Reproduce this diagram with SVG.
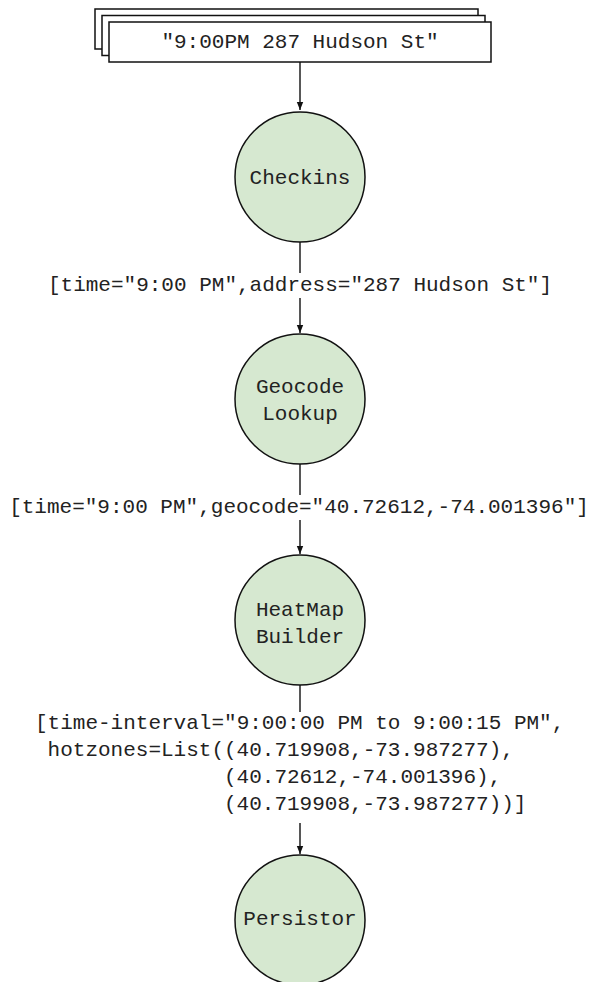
<svg xmlns="http://www.w3.org/2000/svg" width="592" height="982" viewBox="0 0 592 982">
<defs>
<style>
.t{font-family:"Liberation Mono","Courier New",monospace;font-size:21px;fill:#222}
.c{text-anchor:middle}
.node{fill:#d6e8d0;stroke:#111;stroke-width:1.5}
.box{fill:#fff;stroke:#111;stroke-width:1.5}
.edge{fill:none;stroke:#111;stroke-width:1.4}
</style>
<marker id="arr" viewBox="0 0 10 10" refX="10" refY="5" markerWidth="8" markerHeight="8" markerUnits="userSpaceOnUse" orient="auto">
<path d="M0,1 L10,5 L0,9 Z" fill="#111"/>
</marker>
</defs>
<rect width="592" height="982" fill="#fff"/>
<g id="input">
<rect class="box" x="95" y="9" width="383" height="40"/>
<rect class="box" x="102" y="15.5" width="383" height="40"/>
<rect class="box" x="109" y="22" width="382" height="40"/>
<text class="t c" x="300" y="48">"9:00PM 287 Hudson St"</text>
</g>
<g id="connectors">
<path class="edge" d="M300,62 V110" marker-end="url(#arr)"/>
<path class="edge" d="M300,242 V273 M300,298 V333" marker-end="url(#arr)"/>
<path class="edge" d="M300,464 V495 M300,520 V554" marker-end="url(#arr)"/>
<path class="edge" d="M300,685 V712 M300,823 V854" marker-end="url(#arr)"/>
</g>
<g id="label1"><text class="t c" x="300" y="291">[time="9:00 PM",address="287 Hudson St"]</text></g>
<g id="label2"><text class="t c" x="299" y="513">[time="9:00 PM",geocode="40.72612,-74.001396"]</text></g>
<g id="label3">
<text class="t" x="35" y="729">[time-interval="9:00:00 PM to 9:00:15 PM",</text>
<text class="t" x="47.6" y="756">hotzones=List((40.719908,-73.987277),</text>
<text class="t" x="224" y="783">(40.72612,-74.001396),</text>
<text class="t" x="224" y="810">(40.719908,-73.987277))]</text>
</g>
<g id="checkins">
<circle class="node" cx="300" cy="177" r="65"/>
<text class="t c" x="300" y="184">Checkins</text>
</g>
<g id="geocode">
<circle class="node" cx="300" cy="399" r="65"/>
<text class="t c" x="300" y="393">Geocode</text>
<text class="t c" x="300" y="420">Lookup</text>
</g>
<g id="heatmap">
<circle class="node" cx="300" cy="620" r="65"/>
<text class="t c" x="300" y="616">HeatMap</text>
<text class="t c" x="300" y="643">Builder</text>
</g>
<g id="persistor">
<circle class="node" cx="300" cy="920" r="65"/>
<text class="t c" x="300" y="925">Persistor</text>
</g>
</svg>
